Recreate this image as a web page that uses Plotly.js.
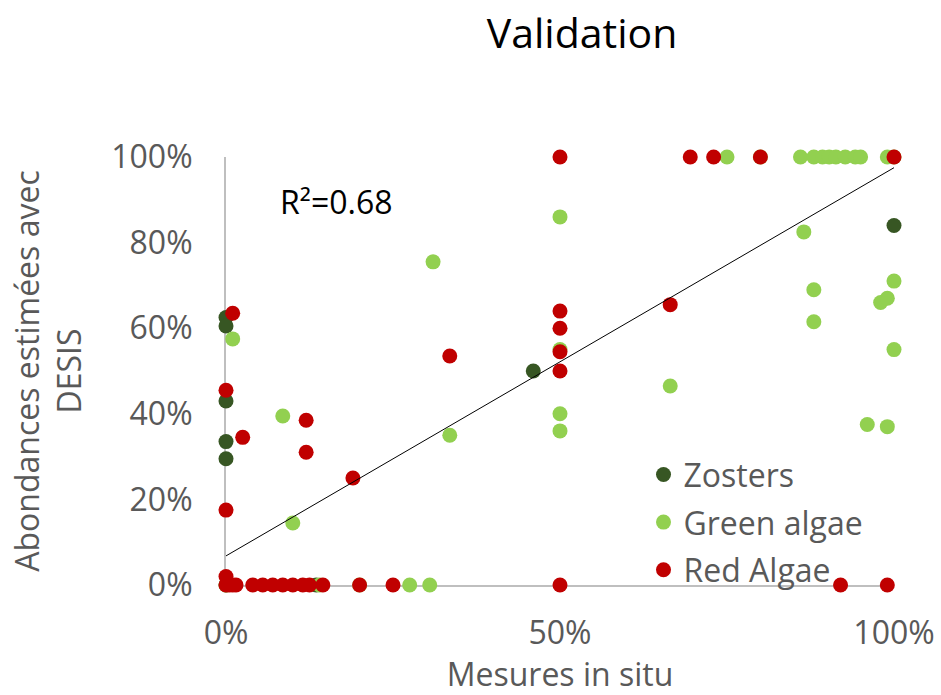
<!DOCTYPE html>
<html>
<head>
<meta charset="utf-8">
<script src="https://cdn.plot.ly/plotly-3.0.1.min.js"></script>
<style>html,body{margin:0;padding:0;background:#fff;}#chart{width:941px;height:695px;}</style>
</head>
<body>
<div id="chart"></div>
<script>
// Data (values in %)
const zostersX = [0, 0, 0, 0, 0, 46, 100, 13.5, 0];
const zostersY = [62.5, 60.5, 43, 33.5, 29.5, 50, 84, 0, 0];

const greenX = [1, 8.5, 10, 31, 33.5, 50, 50, 50, 50, 66.5, 86.5, 88, 88, 98, 99, 100, 100, 96, 99,
  75, 80, 86, 88, 89.3, 90.3, 91.3, 92.7, 94.2, 95, 99, 100,
  0, 14, 20, 27.5, 30.5];
const greenY = [57.5, 39.5, 14.5, 75.5, 35, 86, 55, 40, 36, 46.5, 82.5, 69, 61.5, 66, 67, 71, 55, 37.5, 37,
  100, 100, 100, 100, 100, 100, 100, 100, 100, 100, 100, 100,
  0, 0, 0, 0, 0];

const redX = [1, 0, 2.5, 12, 12, 0, 0, 19, 33.5, 50, 50, 50, 50, 66.5, 50, 92, 99,
  50, 69.5, 73, 80, 100,
  0, 0.5, 1, 1.5, 4, 5.5, 7, 8.5, 10, 11.5, 12.5, 14.5, 20, 25];
const redY = [63.5, 45.5, 34.5, 38.5, 31, 17.5, 2, 25, 53.5, 64, 60, 54.5, 50, 65.5, 0, 0, 0,
  100, 100, 100, 100, 100,
  0, 0, 0, 0, 0, 0, 0, 0, 0, 0, 0, 0, 0, 0];

const seriesNames = ["Zosters", "Green algae", "Red Algae"];
const trendIntercept = 6.8;
const trendSlope = 0.907;
const trendRange = [0, 100];
const rSquaredLabel = "R\u00b2=0.68";

const xTicks = [0, 50, 100];
const yTicks = [0, 20, 40, 60, 80, 100];

const gray = "#595959";
const font = "Open Sans, Noto Sans, sans-serif";

const mk = (c) => ({color: c, size: 15, line: {width: 0}});

const traces = [
  {x: zostersX, y: zostersY, name: seriesNames[0], legendgroup: "z", type: "scatter", mode: "markers", marker: mk("#375623"), cliponaxis: false},
  {x: greenX, y: greenY, name: seriesNames[1], legendgroup: "g", type: "scatter", mode: "markers", marker: mk("#92D050"), cliponaxis: false},
  {x: redX, y: redY, name: seriesNames[2], legendgroup: "r", type: "scatter", mode: "markers", marker: mk("#C00000"), cliponaxis: false},
  {x: trendRange, y: trendRange.map(v => trendIntercept + trendSlope * v), type: "scatter", mode: "lines",
   line: {color: "#000000", width: 1}, showlegend: false, hoverinfo: "skip", cliponaxis: false}
];

const layout = {
  width: 941, height: 695,
  margin: {l: 226, r: 47, t: 157, b: 110},
  paper_bgcolor: "#ffffff", plot_bgcolor: "#ffffff",
  font: {family: font, size: 32, color: gray},
  title: {text: "Validation", font: {family: font, size: 41, color: "#000000"},
          x: 0.533, xref: "paper", xanchor: "center", y: 0.952, yanchor: "middle"},
  xaxis: {
    range: [0, 100], tickvals: xTicks, ticktext: xTicks.map(v => v + "%"),
    showgrid: false, zeroline: false, showline: true, linecolor: "#BFBFBF", linewidth: 2,
    ticks: "", ticklabelstandoff: 19, layer: "below traces",
    title: {text: "Mesures in situ", font: {family: font, size: 32, color: gray}, standoff: 7}
  },
  yaxis: {
    range: [0, 100], tickvals: yTicks, ticktext: yTicks.map(v => v + "%"),
    showgrid: false, zeroline: false, showline: true, linecolor: "#BFBFBF", linewidth: 2,
    ticks: "", ticklabelstandoff: 25, layer: "below traces",
    title: {text: "Abondances estimées avec<br>DESIS", font: {family: font, size: 32, color: gray}, standoff: 20}
  },
  legend: {x: 0.625, xanchor: "left", y: 0.322, yanchor: "top", bgcolor: "rgba(0,0,0,0)",
           font: {family: font, size: 32, color: gray}, itemsizing: "trace", tracegroupgap: 3},
  annotations: [{text: rSquaredLabel, xref: "paper", yref: "paper", x: 0.165, y: 0.895,
                 xanchor: "center", yanchor: "middle", showarrow: false,
                 font: {family: font, size: 32, color: "#000000"}}],
  showlegend: true
};

Plotly.newPlot("chart", traces, layout, {displayModeBar: false, staticPlot: true});
</script>
</body>
</html>
